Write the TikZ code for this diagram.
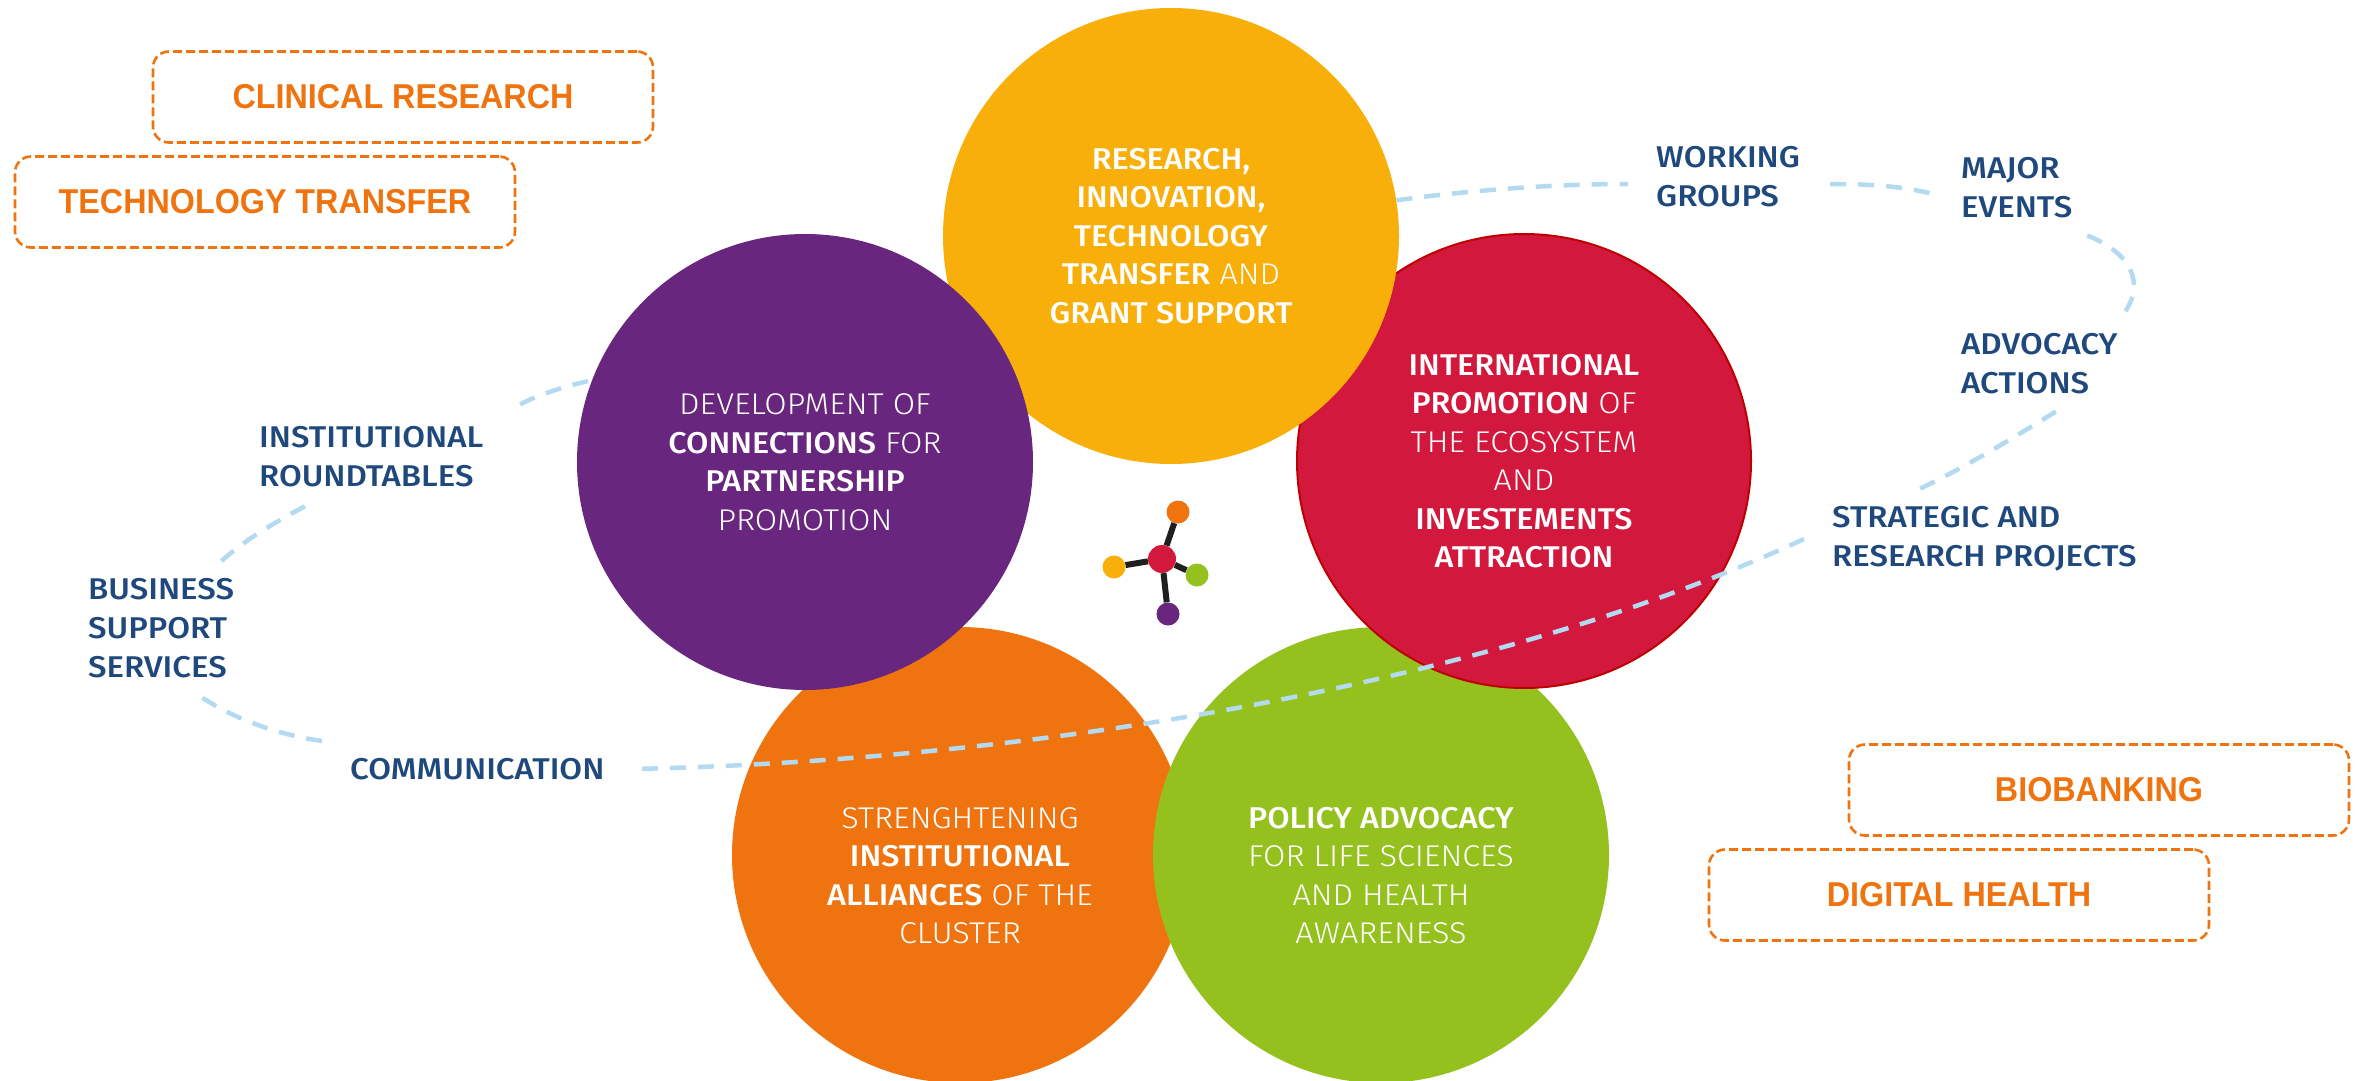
\documentclass[tikz,border=0pt]{standalone}
\usepackage{fontspec}
\setmainfont{Fira Sans}[BoldFont={Fira Sans Medium},FakeStretch=1.1]
\newfontfamily\lightfont{Fira Sans Light}[BoldFont={Fira Sans Medium},FakeStretch=1.08]
\newfontfamily\tagfont{Liberation Sans Bold}[FakeStretch=0.936]
\usetikzlibrary{
  positioning
}
\definecolor{amber}{HTML}{F8AF0A}
\definecolor{violet}{HTML}{68267E}
\definecolor{crimson}{HTML}{D2183C}
\definecolor{tangerine}{HTML}{EF7410}
\definecolor{lime}{HTML}{95C11F}
\definecolor{navy}{HTML}{1F497D}
\definecolor{sky}{HTML}{B3DAF1}

\begin{document}
\begin{tikzpicture}[
      x=1pt,y=-1pt,
      bubble/.style={
         circle,
         minimum size=456pt,
         inner sep=0pt,
         align=center,
         text=white,
         font=\lightfont\fontsize{30}{38.5}\selectfont
      },
      service/.style={
         rectangle,
         anchor=west,
         inner xsep=28pt,
         inner ysep=17pt,
         align=left,
         text=navy,
         font=\bfseries\fontsize{30}{39}\selectfont
      },
      focus/.style={
         rectangle,
         rounded corners=16pt,
         minimum width=500pt,
         minimum height=91pt,
         dash pattern=on 9pt off 4pt,
         line width=2.6pt,
         draw=tangerine,
         text=tangerine,
         font=\tagfont\fontsize{34.5}{38}\selectfont
      },
      link/.style={
         draw=sky,
         line width=4.5pt,
         dash pattern=on 16pt off 12pt
      },
      atom/.style={circle, inner sep=0pt, minimum size=23pt},
      bond/.style={line width=6pt, draw=black!88},
    ]
    \useasboundingbox (0,0) rectangle (2359,1081);

    \node (n5) [bubble, fill=tangerine] at (960,855) {\mbox{}\\[24pt]STRENGHTENING\\\textbf{INSTITUTIONAL}\\\textbf{ALLIANCES} OF THE\\CLUSTER};
    \node (n4) [bubble, fill=lime] at (1381,855) {\mbox{}\\[24pt]\textbf{POLICY ADVOCACY}\\FOR LIFE SCIENCES\\AND HEALTH\\AWARENESS};
    \node (n3) [bubble, fill=crimson, draw=red!75!black, line width=2pt, minimum size=454pt] at (1524,461) {\textbf{INTERNATIONAL}\\\textbf{PROMOTION} OF\\THE ECOSYSTEM\\AND\\\textbf{INVESTEMENTS}\\\textbf{ATTRACTION}};
    \node (n1) [bubble, fill=amber] at (1171,236) {\textbf{RESEARCH,}\\\textbf{INNOVATION,}\\\textbf{TECHNOLOGY}\\\textbf{TRANSFER} AND\\\textbf{GRANT SUPPORT}};
    \node (n2) [bubble, fill=violet] at (805,462) {DEVELOPMENT OF\\\textbf{CONNECTIONS} FOR\\\textbf{PARTNERSHIP}\\PROMOTION};

    \node (s1) [service] at (1628,177) {WORKING\\GROUPS};
    \node (s2) [service] at (1933,188) {MAJOR\\EVENTS};
    \node (s3) [service] at (1933,364) {ADVOCACY\\ACTIONS};
    \node (s4) [service] at (1804,539) {STRATEGIC AND\\RESEARCH PROJECTS};
    \node (s5) [service] at (322,769) {COMMUNICATION};
    \node (s6) [service] at (60,628) {BUSINESS\\SUPPORT\\SERVICES};
    \node (s7) [service] at (231,457) {INSTITUTIONAL\\ROUNDTABLES};

    \node (f1) [focus] at (403,97) {CLINICAL RESEARCH};
    \node (f2) [focus] at (265,202) {TECHNOLOGY TRANSFER};
    \node (f3) [focus] at (2099,790) {BIOBANKING};
    \node (f4) [focus] at (1959,895) {DIGITAL HEALTH};

    \node (a0) [atom, minimum size=28pt, fill=crimson] at (1162,559) {};
    \node (a1) [atom, fill=tangerine] at (1178,512) {};
    \node (a2) [atom, fill=amber] at (1114,567) {};
    \node (a3) [atom, fill=lime] at (1197,575) {};
    \node (a4) [atom, fill=violet] at (1168,614) {};
    \foreach \n in {a1,a2,a3,a4}
       \draw [bond] (a0) -- (\n);

    \draw [link] (n1.9) .. controls (1480,189) and (1560,184) .. (s1.184);
    \draw [link, shorten <=2pt] (s1.-4) .. controls (1870,184) and (1900,186) .. (s2.184);
    \draw [link] (s2.-34) .. controls (2125,250) and (2150,280) .. (s3.30);
    \draw [link] (s3.-71) .. controls (2010,440) and (1960,470) .. (s4.143);
    \draw [link] (s4.west) .. controls (1500,680) and (1050,760) .. (s5.east);
    \draw [link] (s5.north west) .. controls (280,735) and (235,720) .. (s6.-61);
    \draw [link] (s6.48) .. controls (245,540) and (270,525) .. (s7.-143);
    \draw [link, shorten <=10pt] (s7.north east) .. controls (535,396) and (565,386) .. (n2.159);
\end{tikzpicture}
\end{document}
